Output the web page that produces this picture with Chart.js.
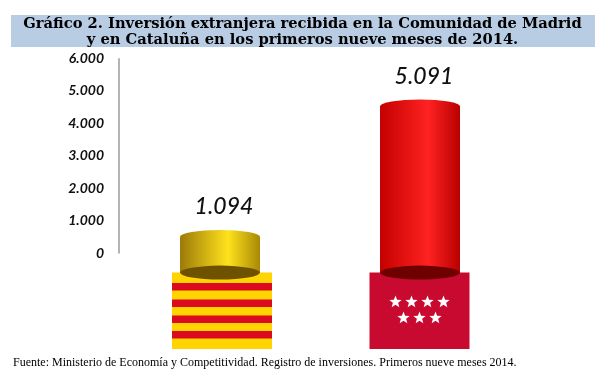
<!DOCTYPE html>
<html>
<head>
<meta charset="utf-8">
<style>
  html, body { margin: 0; padding: 0; background: #fff; }
  canvas { display: block; }
</style>
<script src="https://cdn.jsdelivr.net/npm/chart.js@4"></script>
</head>
<body>
<canvas id="inversionChart" width="605" height="373"></canvas>
<script>
const categories = ['Cataluña', 'Comunidad de Madrid'];
const inversion = [1094, 5091];
const tickValues = [0, 1000, 2000, 3000, 4000, 5000, 6000];
const tickLabels = ['0', '1.000', '2.000', '3.000', '4.000', '5.000', '6.000'];
const valueLabels = ['1.094', '5.091'];
const titleLines = ['Gráfico 2. Inversión extranjera recibida en la Comunidad de Madrid',
  'y en Cataluña en los primeros nueve meses de 2014.'];
const fuente = 'Fuente: Ministerio de Economía y Competitividad. Registro de inversiones. Primeros nueve meses 2014.';

// colours per bar: edge, highlight, edge, floor of the cylinder
const cylinderColors = [
  ['#9c7a08', '#ffe21c', '#a88806', '#6e5200'],
  ['#c40000', '#ff2222', '#b80000', '#6e0000']
];

const RY = 7; // half height of the ellipses

function bodyGradient(ctx, bar, i) {
  const c = cylinderColors[i];
  const g = ctx.createLinearGradient(bar.x - bar.width / 2, 0, bar.x + bar.width / 2, 0);
  g.addColorStop(0, c[0]);
  g.addColorStop(0.6, c[1]);
  g.addColorStop(1, c[2]);
  return g;
}

function star(ctx, cx, cy, r) {
  ctx.beginPath();
  for (let k = 0; k < 10; k++) {
    const rad = k % 2 ? r * 0.42 : r;
    const a = -Math.PI / 2 + k * Math.PI / 5;
    ctx.lineTo(cx + rad * Math.cos(a), cy + rad * Math.sin(a));
  }
  ctx.closePath();
  ctx.fill();
}

// the two flags under the bars, placed from the bar x
function drawFlags(ctx, bars) {
  const fw = 100, top = 272.5, h = 76.5;
  const catX = bars[0].x + 2 - fw / 2;
  ctx.fillStyle = '#ffd400';
  ctx.fillRect(catX, top, fw, h);
  ctx.fillStyle = '#dc0a1e';
  [10.5, 27, 43, 58.5].forEach(s => ctx.fillRect(catX, top + s, fw, 7.5));

  const madCx = bars[1].x - 0.5;
  ctx.fillStyle = '#c90a30';
  ctx.fillRect(madCx - fw / 2, top, fw, h);
  ctx.fillStyle = '#fff';
  [-24, -8, 8, 24].forEach(dx => star(ctx, madCx + dx, 302, 6.5));
  [-16, 0, 16].forEach(dx => star(ctx, madCx + dx, 318, 6.5));
}

const bandPlugin = {
  id: 'band',
  beforeDraw(chart) {
    chart.ctx.save();
    chart.ctx.fillStyle = '#b8cce4';
    chart.ctx.fillRect(11, 15, 584, 32);
    chart.ctx.restore();
  }
};

const cylinderPlugin = {
  id: 'cylinders',
  beforeDatasetsDraw(chart) {
    const ctx = chart.ctx;
    const bars = chart.getDatasetMeta(0).data;
    ctx.save();
    drawFlags(ctx, bars);
    // axis line only runs from 0 to 6000 of the label scale
    const y = chart.scales.y;
    ctx.strokeStyle = '#b4b4b4';
    ctx.lineWidth = 2;
    ctx.beginPath();
    ctx.moveTo(119, y.getPixelForValue(6000));
    ctx.lineTo(119, y.getPixelForValue(0));
    ctx.stroke();
    ctx.restore();
  },
  afterDatasetsDraw(chart) {
    const ctx = chart.ctx;
    const bars = chart.getDatasetMeta(0).data;
    ctx.save();
    bars.forEach((bar, i) => {
      const rx = bar.width / 2;
      // shaded body and dome on top
      ctx.fillStyle = bodyGradient(ctx, bar, i);
      ctx.beginPath();
      ctx.ellipse(bar.x, bar.y, rx, RY, 0, Math.PI, 2 * Math.PI);
      ctx.lineTo(bar.x + rx, bar.base);
      ctx.lineTo(bar.x - rx, bar.base);
      ctx.closePath();
      ctx.fill();
      // dark floor
      ctx.fillStyle = cylinderColors[i][3];
      ctx.beginPath();
      ctx.ellipse(bar.x, bar.base, rx, RY, 0, 0, 2 * Math.PI);
      ctx.fill();
      // value
      ctx.fillStyle = '#111';
      ctx.font = 'italic 500 23px Lato';
      ctx.textAlign = 'center';
      ctx.textBaseline = 'middle';
      ctx.fillText(valueLabels[i], bar.x + 4, bar.y - 30);
    });
    ctx.restore();
  }
};

new Chart(document.getElementById('inversionChart'), {
  type: 'bar',
  data: {
    labels: categories,
    datasets: [{
      data: inversion,
      yAxisID: 'yBars',
      barPercentage: 0.4,
      categoryPercentage: 1,
      backgroundColor: cylinderColors.map(c => c[1])
    }]
  },
  options: {
    responsive: false,
    animation: false,
    layout: { padding: { left: 13, right: 13 } },
    plugins: {
      legend: { display: false },
      tooltip: { enabled: false },
      title: {
        display: true,
        text: titleLines,
        color: '#000',
        font: { family: 'DejaVu Serif', weight: 'bold', size: 14.7, lineHeight: 1.1 },
        padding: { top: 16, bottom: 10 }
      },
      subtitle: {
        display: true,
        position: 'bottom',
        align: 'start',
        text: fuente,
        color: '#000',
        font: { family: 'Liberation Serif', size: 12 },
        padding: { top: 83, bottom: 3 }
      }
    },
    scales: {
      x: { display: false },
      // visible labels: 0 sits above the floor of the bars, as in a 3D plot
      y: {
        position: 'left',
        min: -591,
        max: 6000,
        grid: { display: false, drawTicks: false },
        border: { display: false },
        afterBuildTicks(scale) { scale.ticks = tickValues.map(v => ({ value: v })); },
        afterFit(scale) { scale.width = 107; },
        ticks: {
          autoSkip: false,
          padding: 16,
          color: '#111',
          font: { family: 'Lato', style: 'italic', weight: 'bold', size: 14 },
          callback(v) { return tickLabels[tickValues.indexOf(v)]; }
        }
      },
      // no marks of its own, it only holds the right margin of the plot
      yBars: {
        position: 'right',
        min: 0,
        max: 6563,
        grid: { display: false, drawTicks: false },
        border: { display: false },
        ticks: { display: false },
        afterFit(scale) { scale.width = 72; }
      }
    }
  },
  plugins: [bandPlugin, cylinderPlugin]
});
</script>
</body>
</html>
